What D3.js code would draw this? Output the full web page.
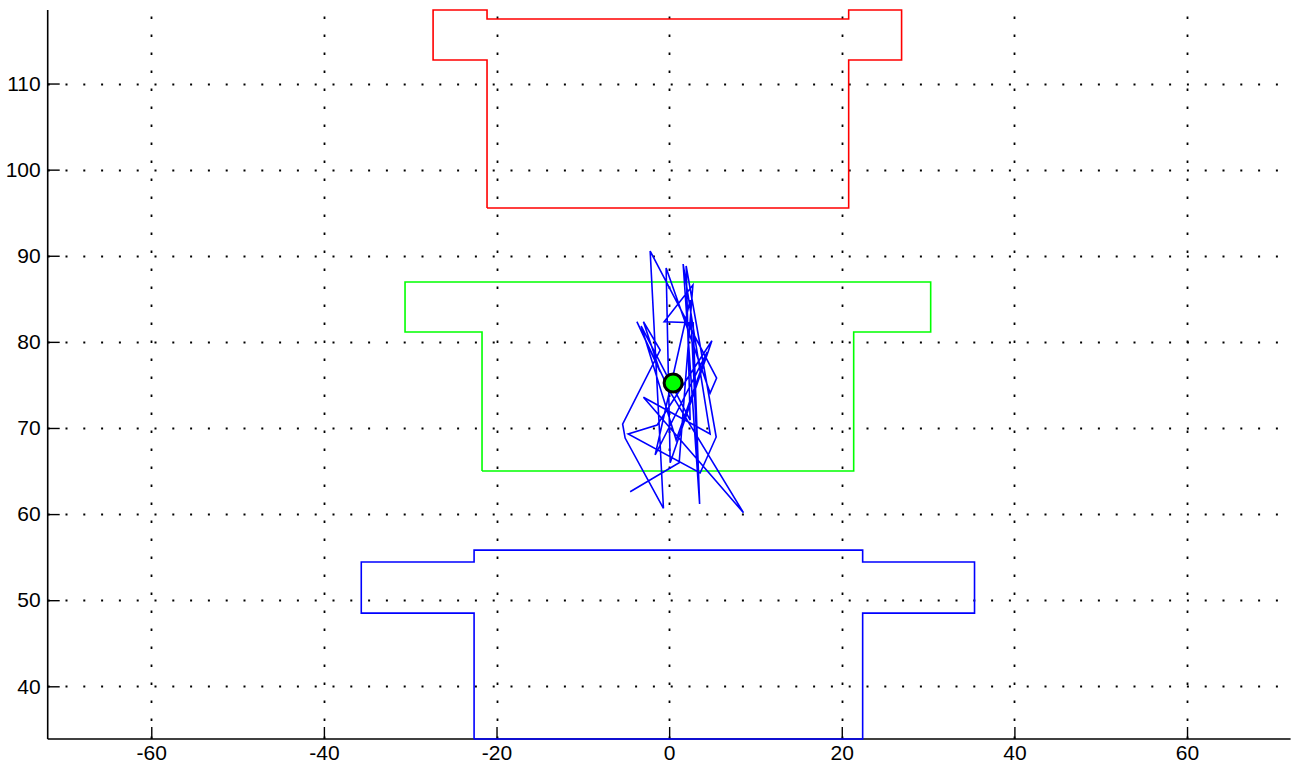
<!DOCTYPE html>
<html>
<head>
<meta charset="utf-8">
<script src="https://cdn.jsdelivr.net/npm/d3@7"></script>
<style>
  html, body { margin: 0; padding: 0; background: #fff; }
  svg { display: block; }
  text { font-family: "Liberation Sans", Arial, Helvetica, sans-serif; }
</style>
</head>
<body>
<svg id="chart" width="1295" height="775"></svg>
<script>
// ---- data ----
const xTicks = [-60, -40, -20, 0, 20, 40, 60];
const yTicks = [40, 50, 60, 70, 80, 90, 100, 110];
const xDomain = [-72, 72];
const yDomain = [33.88, 118.54];

// red outline (upper profile)
const redX = [-21.1, -21.1, -27.35, -27.35, -21.1, -21.1, 20.8, 20.8, 26.93, 26.93, 20.8, 20.8, -21.1];
const redY = [95.54, 112.73, 112.73, 118.54, 118.54, 117.49, 117.49, 118.54, 118.54, 112.73, 112.73, 95.54, 95.54];

// green outline (middle profile)
const greenX = [-21.68, -21.68, -30.6, -30.6, 30.3, 30.3, 21.38, 21.38, -21.68];
const greenY = [65.0, 81.14, 81.14, 86.95, 86.95, 81.14, 81.14, 65.0, 65.0];

// blue outline (lower profile)
const blueX = [-22.6, -22.6, -35.67, -35.67, -22.6, -22.6, 22.42, 22.42, 35.38, 35.38, 22.42, 22.42, -22.6];
const blueY = [33.88, 48.5, 48.5, 54.43, 54.43, 55.82, 55.82, 54.43, 54.43, 48.5, 48.5, 33.88, 33.88];

// blue track
const trackX = [-4.52, 1.16, 2.75, -0.58, 2.78, 3.53, 1.62, 4.75, -2.98, 8.61, 0.12, -3.74, -1.04, -2.98, -1.04,
                -5.39, -5.10, -0.66, -2.20, 5.50, 4.75, -0.35, 0.12, 4.95, -1.39, -4.75, 3.59, 5.45, 1.97,
                2.43, -3.24, 0.81, 4.40, -1.62, 2.43, 3.36];
const trackY = [62.60, 65.96, 86.60, 82.34, 82.22, 61.17, 89.04, 69.30, 73.56, 60.16, 74.17, 82.34, 76.50, 82.34, 79.05,
                70.46, 68.83, 60.67, 90.55, 75.80, 74.06, 88.57, 65.96, 80.13, 70.34, 69.30, 64.77, 68.95, 88.81,
                70.92, 81.84, 68.60, 78.82, 66.86, 84.86, 65.12];

// green marker
const markerX = [0.46];
const markerY = [75.22];

// ---- drawing ----
const svg = d3.select("#chart");
const x = d3.scaleLinear().domain(xDomain).range([47.7, 1290.6]);
const y = d3.scaleLinear().domain(yDomain).range([739, 10]);

const gGrid = svg.append("g");
// vertical grid lines (drawn bottom-up)
gGrid.selectAll("line.vg").data(xTicks).enter().append("line")
  .attr("x1", d => Math.round(x(d)) + 0.5).attr("x2", d => Math.round(x(d)) + 0.5)
  .attr("y1", y.range()[0]).attr("y2", y.range()[1])
  .attr("stroke", "#000").attr("stroke-width", 1.8)
  .attr("stroke-dasharray", "2.5,15.5");
// horizontal grid lines
gGrid.selectAll("line.hg").data(yTicks).enter().append("line")
  .attr("x1", x.range()[0]).attr("x2", x.range()[1])
  .attr("y1", d => Math.round(y(d)) + 0.5).attr("y2", d => Math.round(y(d)) + 0.5)
  .attr("stroke", "#000").attr("stroke-width", 1.8)
  .attr("stroke-dasharray", "2,15.8");

// axes
const xAxis = d3.axisBottom(x).tickValues(xTicks).tickSize(-12).tickPadding(6)
  .tickFormat(d => String(d));
const yAxis = d3.axisLeft(y).tickValues(yTicks).tickSize(-12).tickPadding(7)
  .tickFormat(d => String(d));

const gx = svg.append("g").attr("transform", `translate(0,${y.range()[0]})`).call(xAxis);
const gy = svg.append("g").attr("transform", `translate(${x.range()[0]},0)`).call(yAxis);
[gx, gy].forEach(g => {
  g.select(".domain").remove();
  g.selectAll(".tick line").attr("stroke", "#000").attr("stroke-width", 1.4);
  g.selectAll(".tick text").attr("fill", "#000").style("font-size", "21px")
    .style("font-family", '"Liberation Sans", Arial, sans-serif');
});
// axis lines (left and bottom only)
svg.append("line").attr("x1", x.range()[0]).attr("x2", x.range()[1])
  .attr("y1", y.range()[0]).attr("y2", y.range()[0]).attr("stroke", "#000").attr("stroke-width", 1.6);
svg.append("line").attr("x1", x.range()[0]).attr("x2", x.range()[0])
  .attr("y1", y.range()[0]).attr("y2", y.range()[1]).attr("stroke", "#000").attr("stroke-width", 1.6);

// outlines
const line = d3.line().x(d => x(d[0])).y(d => y(d[1]));
function drawPoly(xs, ys, color) {
  svg.append("path").datum(xs.map((v, i) => [v, ys[i]]))
    .attr("d", line).attr("fill", "none").attr("stroke", color)
    .attr("stroke-width", 1.6).attr("stroke-linejoin", "miter");
}
drawPoly(redX, redY, "#ff0000");
drawPoly(greenX, greenY, "#00ff00");
drawPoly(blueX, blueY, "#0000ff");
drawPoly(trackX, trackY, "#0000ff");

// marker
svg.selectAll("circle.m").data(markerX).enter().append("circle")
  .attr("cx", (d, i) => x(d)).attr("cy", (d, i) => y(markerY[i]))
  .attr("r", 9).attr("fill", "#00ff00").attr("stroke", "#000").attr("stroke-width", 3);
</script>
</body>
</html>
